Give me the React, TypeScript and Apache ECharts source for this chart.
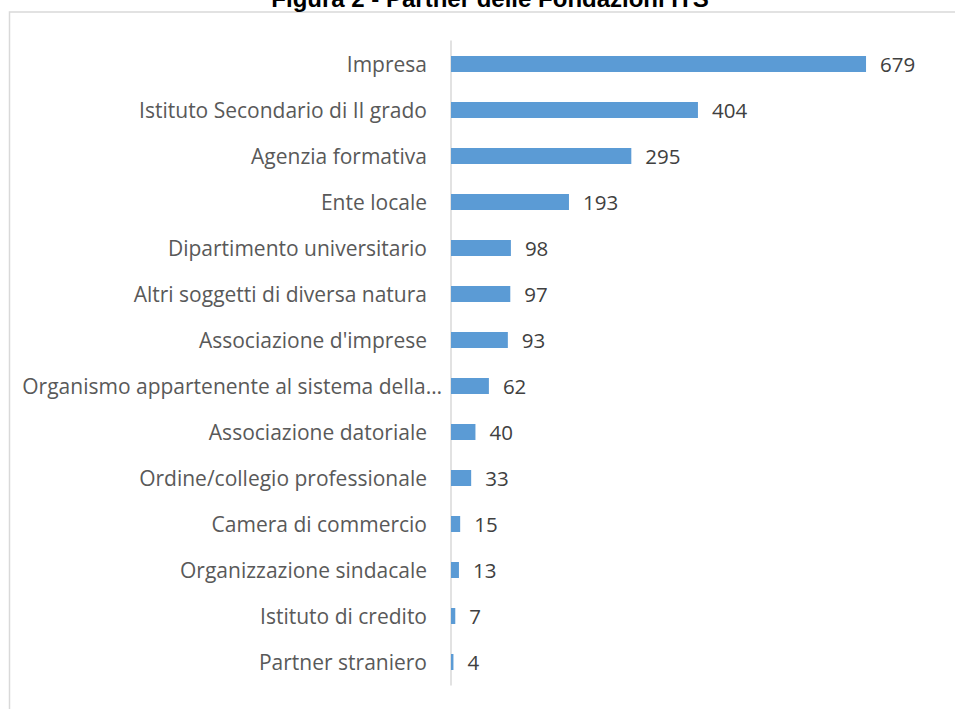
import React, { useEffect, useRef } from "react";
import * as echarts from "echarts";

const categories = [
  "Impresa",
  "Istituto Secondario di II grado",
  "Agenzia formativa",
  "Ente locale",
  "Dipartimento universitario",
  "Altri soggetti di diversa natura",
  "Associazione d'imprese",
  "Organismo appartenente al sistema della…",
  "Associazione datoriale",
  "Ordine/collegio professionale",
  "Camera di commercio",
  "Organizzazione sindacale",
  "Istituto di credito",
  "Partner straniero",
];
const values = [679, 404, 295, 193, 98, 97, 93, 62, 40, 33, 15, 13, 7, 4];
const title = "Figura 2 - Partner delle Fondazioni ITS";
const truncatedCategory = "Organismo appartenente al sistema della…";

export default function App() {
  const ref = useRef<HTMLDivElement>(null);
  useEffect(() => {
    if (!ref.current) return;
    const chart = echarts.init(ref.current, null, { renderer: "svg" });
    chart.setOption({
      animation: false,
      backgroundColor: "#ffffff",
      graphic: [
        {
          type: "rect",
          shape: { x: 9.5, y: 12, width: 1000, height: 800 },
          style: { fill: "none", stroke: "#d9d9d9", lineWidth: 1.5 },
          silent: true,
        },
        {
          type: "text",
          x: 490,
          y: -1.5,
          style: {
            text: title,
            font: "bold 24px 'Liberation Sans', Arial, sans-serif",
            fill: "#000000",
            align: "center",
            verticalAlign: "middle",
          },
          silent: true,
        },
      ],
      grid: { left: 451, top: 41, bottom: 24, right: 15 },
      xAxis: {
        type: "value",
        min: 0,
        max: 800,
        show: false,
      },
      yAxis: {
        type: "category",
        inverse: true,
        data: categories.map((c) =>
          c === truncatedCategory
            ? { value: c, textStyle: { padding: [0, -15, 0, 0] } }
            : c
        ),
        axisLine: { show: true, lineStyle: { color: "#d9d9d9", width: 1.5 } },
        axisTick: { show: false },
        axisLabel: {
          margin: 24,
          color: "#595959",
          fontSize: 21,
          fontFamily: "'Open Sans', sans-serif",
        },
      },
      series: [
        {
          type: "bar",
          data: values,
          barWidth: 16,
          itemStyle: { color: "#5B9BD5" },
          label: {
            show: true,
            position: "right",
            distance: 14,
            color: "#404040",
            fontSize: 20.5,
            fontFamily: "'Open Sans', sans-serif",
          },
        },
      ],
    });
    return () => chart.dispose();
  }, []);
  return (
    <div
      ref={ref}
      style={{ position: "absolute", left: 0, top: 0, width: 955, height: 709 }}
    />
  );
}
